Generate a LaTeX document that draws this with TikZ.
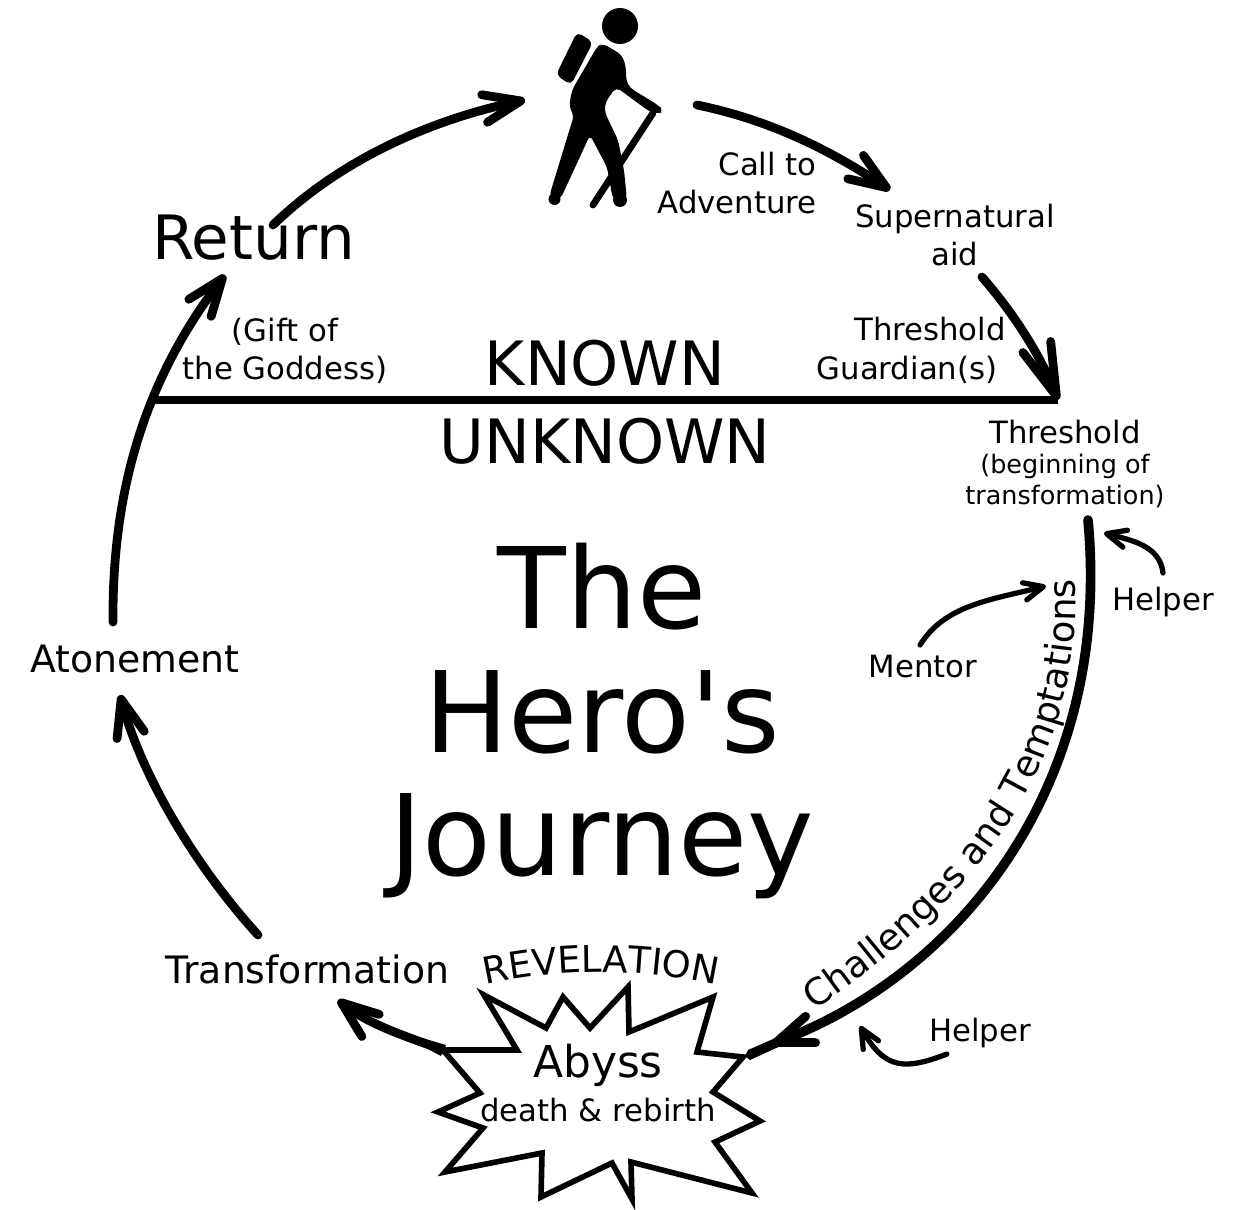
\documentclass[tikz,border=0pt]{standalone}
\usepackage{fontspec}
\setmainfont{DejaVu Sans}
\usetikzlibrary{arrows.meta,positioning,calc,decorations.text,backgrounds}
\tikzset{
  lbl/.style={font=\fontsize{17.5pt}{22pt}\selectfont, align=center, inner sep=0pt},
  biglbl/.style={font=\fontsize{34.8pt}{40pt}\selectfont, inner sep=0pt},
  midlbl/.style={font=\fontsize{21.5pt}{26pt}\selectfont, inner sep=0pt},
  titlelbl/.style={font=\fontsize{64pt}{70.3pt}\selectfont, align=center, inner sep=0pt},
  mainarrow/.style={line width=5pt, line cap=round, -{Straight Barb[round,length=21pt,width=16pt,line width=5pt]}},
  smallarrow/.style={line width=3pt, line cap=round, -{Straight Barb[round,length=11pt,width=10pt,line width=3pt]}},
}
\begin{document}
\begin{tikzpicture}[x=0.02cm,y=-0.02cm]
  \useasboundingbox (0,0) rectangle (1241,1210);

  % hiker
  \fill (620,26) circle (18);
  \fill[rounded corners=3] (577,32) -- (593,42) -- (571,85) -- (556,75) -- cycle;
  \draw[line width=3.9pt,line cap=round] (653,113) -- (593,205);
  \fill[rounded corners=3] (602,43) -- (622,55) -- (626,67) -- (626,80) -- (630,88) -- (658,105)
    -- (664,111) -- (658,114) -- (650,112) -- (616,87) -- (605,103) -- (605,113) -- (618,140)
    -- (624,170) -- (627,200) -- (613,200) -- (607,167) -- (590,135) -- (560,200)
    -- (549,197) -- (574,115) -- (569,107) -- (572,90) -- (597,47) -- cycle;
  \fill (554.5,199) circle (6) (620,200) circle (7);

  % abyss star
  \draw[line width=3.2pt,fill=white,miter limit=10]
    (484,995) -- (517,1050) -- (443,1050) -- (480,1093) -- (438,1112) -- (483,1128) -- (445,1172)
    -- (542,1153) -- (541,1197) -- (612,1163) -- (632,1199) -- (631,1162) -- (752,1193)
    -- (715,1142) -- (760,1121) -- (713,1092) -- (743,1057) -- (697,1052) -- (713,997)
    -- (629,1032) -- (628,987) -- (590,1028) -- (563,997) -- (546,1028) -- cycle;

  % labels
  \node[lbl,align=right,anchor=east] (call) at (817,183) {Call to\\Adventure};
  \node[lbl] (aid) at (955,235) {Supernatural\\aid};
  \node[lbl] (guard1) at (930,329) {Threshold};
  \node[lbl] (guard2) at (907,370) {Guardian(s)};
  \node[lbl] (gift) at (285,351) {(Gift of\\the Goddess)};
  \node[lbl] (thresh) at (1065,432) {Threshold};
  \node[lbl,font=\fontsize{14.5pt}{17.5pt}\selectfont] (begin) at (1065,481) {(beginning of\\transformation)};
  \node[lbl] (helpa) at (1163,602) {Helper};
  \node[lbl] (mentor) at (923,667) {Mentor};
  \node[lbl] (helpb) at (980,1033) {Helper};
  \node[biglbl] (return) at (253.5,238) {Return};
  \node[biglbl] (known) at (605,363) {KNOWN};
  \node[biglbl] (unknown) at (605,441) {UNKNOWN};
  \node[midlbl] (atone) at (135,659) {Atonement};
  \node[midlbl] (transf) at (307.5,969) {Transformation};
  \node[titlelbl] (title) at (602,721) {The\\Hero\textquotesingle s\\Journey};
  \node[font=\fontsize{25pt}{28pt}\selectfont,inner sep=0pt] (abyss) at (598,1065) {Abyss};
  \node[lbl] (death) at (598,1110) {death \& rebirth};

  % free ends of the connectors
  \coordinate (hikerL) at (525,100);
  \coordinate (hikerR) at (697,105);
  \coordinate (aidIn) at (890,190);
  \coordinate (aidOut) at (982,277);
  \coordinate (lineL) at (150,400);
  \coordinate (lineR) at (1058,400);
  \coordinate (challS) at (1088,520);
  \coordinate (challE) at (772,1044);
  \coordinate (starR) at (745,1056);
  \coordinate (starL) at (443,1050);
  \coordinate (transfIn) at (338,1000);
  \coordinate (transfOut) at (258,935);
  \coordinate (atoneIn) at (120,695);
  \coordinate (atoneOut) at (113,622);
  \coordinate (returnIn) at (225,275);
  \coordinate (returnOut) at (273,225);
  \coordinate (helpaS) at (1163,573);
  \coordinate (helpaE) at (1104,533);
  \coordinate (mentorS) at (920,645);
  \coordinate (mentorE) at (1046,586);
  \coordinate (helpbS) at (947,1054);
  \coordinate (helpbE) at (860,1026);

  % the circle
  \draw[mainarrow] (returnOut) .. controls (340,160) and (430,120) .. (hikerL);
  \draw[mainarrow] (hikerR) .. controls (770,120) and (830,150) .. (aidIn);
  \draw[line width=5pt,line cap=round,-{Straight Barb[round,length=30pt,width=17pt,line width=5pt]}]
    (aidOut) .. controls (1015,315) and (1040,355) .. (lineR);
  \draw[line width=5pt] (lineL) -- (lineR);
  \draw[mainarrow,line width=5.5pt] (challS) .. controls (1113,790) and (955,975) .. (challE);
  \fill (starR) -- (748,1050) -- (780,1036) -- (785,1044) -- (750,1060) -- cycle;
  \draw[mainarrow] (starL) .. controls (405,1036) and (370,1025) .. (transfIn);
  \fill (446,1045) -- (388,1028) -- (441,1056) -- cycle;
  \draw[mainarrow] (transfOut) .. controls (190,860) and (140,770) .. (atoneIn);
  \draw[mainarrow] (atoneOut) .. controls (112,490) and (145,380) .. (returnIn);
  \draw[smallarrow] (helpaS) .. controls (1160,545) and (1130,540) .. (helpaE);
  \draw[smallarrow] (mentorS) .. controls (945,605) and (990,600) .. (mentorE);
  \draw[smallarrow] (helpbS) .. controls (905,1070) and (885,1070) .. (helpbE);

  % curved texts
  \coordinate (tempS) at (815,1010);
  \coordinate (tempE) at (1075,580);
  \path[decorate,decoration={text along path,text align=center,
    text={|\fontsize{21pt}{26pt}\selectfont|Challenges and Temptations}}]
    (tempS) .. controls (940,925) and (1085,790) .. (tempE);
  \coordinate (revS) at (484,985);
  \coordinate (revE) at (718,985);
  \path[decorate,decoration={text along path,text align=center,
    text={|\fontsize{21pt}{26pt}\selectfont|REVELATION}}]
    (revS) .. controls (560,968) and (640,968) .. (revE);
\end{tikzpicture}
\end{document}
